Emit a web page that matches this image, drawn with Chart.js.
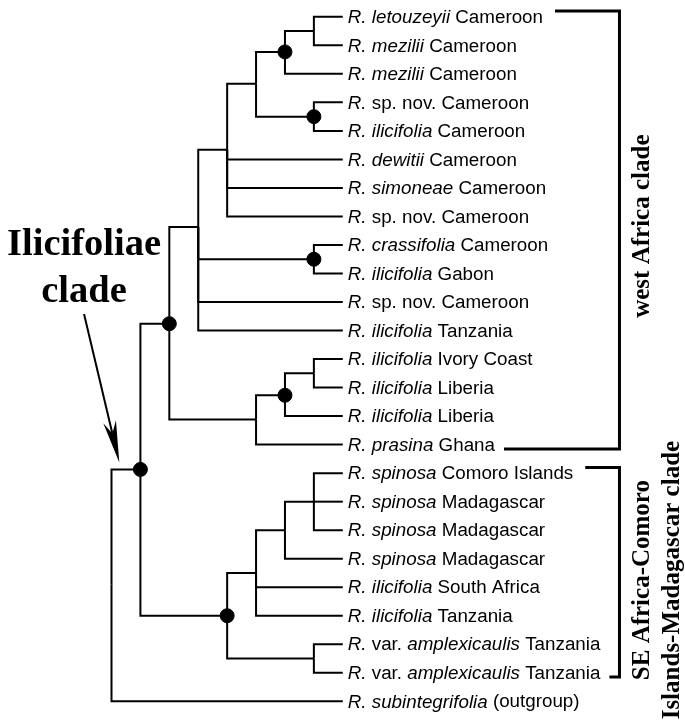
<!DOCTYPE html>
<html>
<head>
<meta charset="utf-8">
<script src="https://cdn.jsdelivr.net/npm/chart.js@4.4.1/dist/chart.umd.min.js"></script>
<style>
  html, body { margin: 0; padding: 0; background: #fff; }
</style>
</head>
<body>
<canvas id="arbol" width="685" height="721"></canvas>
<script>
// tips, top to bottom (_..._ = italic)
const leafLabels = [
  "_R. letouzeyii_ Cameroon",
  "_R. mezilii_ Cameroon",
  "_R. mezilii_ Cameroon",
  "_R._ sp. nov. Cameroon",
  "_R. ilicifolia_ Cameroon",
  "_R. dewitii_ Cameroon",
  "_R. simoneae_ Cameroon",
  "_R._ sp. nov. Cameroon",
  "_R. crassifolia_ Cameroon",
  "_R. ilicifolia_ Gabon",
  "_R._ sp. nov. Cameroon",
  "_R. ilicifolia_ Tanzania",
  "_R. ilicifolia_ Ivory Coast",
  "_R. ilicifolia_ Liberia",
  "_R. ilicifolia_ Liberia",
  "_R. prasina_ Ghana",
  "_R. spinosa_ Comoro Islands",
  "_R. spinosa_ Madagascar",
  "_R. spinosa_ Madagascar",
  "_R. spinosa_ Madagascar",
  "_R. ilicifolia_ South Africa",
  "_R. ilicifolia_ Tanzania",
  "_R._ var. _amplexicaulis_ Tanzania",
  "_R._ var. _amplexicaulis_ Tanzania",
  "_R. subintegrifolia_ (outgroup)"
];
const leafParents = ['a1', 'a1', 'a2', 'b1', 'b1', 'b', 'b', 'b', 'c1', 'c1', 'c', 'c',
  'd1', 'd1', 'd2', 'd3', 's1', 's1', 's1', 's2', 's3', 's3', 's5', 's5', 'root'];
const leafCol = 8;

// internal nodes
const nodeIds     = ['root', 'ili', 'wa', 'c', 'b', 'a', 'a2', 'a1', 'b1', 'c1', 'd3', 'd2', 'd1', 'se', 's3', 's2', 's1', 's5'];
const nodeParents = [null, 'root', 'ili', 'wa', 'c', 'b', 'a', 'a2', 'a', 'c', 'wa', 'd3', 'd2', 'ili', 'se', 's3', 's2', 'se'];
const nodeCols    = [0, 1, 2, 3, 4, 5, 6, 7, 7, 7, 5, 6, 7, 4, 5, 6, 7, 7];
const nodeRows    = [19.9, 15.87, 10.76, 7.37, 4.66, 2.35, 1.23, 0.5, 3.5, 8.5, 14.12, 13.27, 12.5, 21.0, 19.5, 18.0, 17.0, 22.5];
const supported   = ['ili', 'wa', 'a2', 'b1', 'c1', 'd2', 'se'];

// clades marked with brackets
const cladeNames = [["west Africa clade"], ["SE Africa-Comoro", "Islands-Madagascar clade"]];
const cladeFirst = [0, 16];
const cladeLast  = [15, 23];
const cladeMid   = [7.34, 19.75];
const bracketCol = 17.57;

// arrow annotation
const mainLabel = ["Ilicifoliae", "clade"];
const arrowFrom = { x: -0.95, y: 10.42 };
const arrowTo   = { x: 0.27, y: 15.63 };

const pos = {};
nodeIds.forEach((id, i) => { pos[id] = { x: nodeCols[i], y: nodeRows[i] }; });

const ramas = [];
function rama(padre, x, y) {
  const p = pos[padre];
  ramas.push({
    data: [{ x: p.x, y: p.y }, { x: p.x, y: y }, { x: x, y: y }],
    showLine: true,
    borderColor: '#000',
    borderWidth: 2,
    pointRadius: 0,
    borderJoinStyle: 'miter'
  });
}
leafParents.forEach((p, i) => rama(p, leafCol, i));
nodeIds.forEach((id, i) => { if (nodeParents[i]) rama(nodeParents[i], nodeCols[i], nodeRows[i]); });

const nodos = {
  data: supported.map(id => ({ x: pos[id].x, y: pos[id].y })),
  backgroundColor: '#000',
  borderColor: '#000',
  pointRadius: 7,
  pointHoverRadius: 7
};

function textoMixto(ctx, str, x, y) {
  str.split('_').forEach((part, i) => {
    ctx.font = (i % 2 ? 'italic ' : '') + '18.8px "Liberation Sans", Arial, sans-serif';
    ctx.fillText(part, x, y);
    x += ctx.measureText(part).width;
  });
  return x;
}

const anotaciones = {
  id: 'anotaciones',
  afterDatasetsDraw(chart) {
    const ctx = chart.ctx;
    const sx = chart.scales.x, sy = chart.scales.y;
    const tipX = sx.getPixelForValue(leafCol);
    const finTexto = [];
    ctx.save();
    ctx.fillStyle = '#000';
    ctx.textBaseline = 'middle';
    leafLabels.forEach((lab, i) => {
      finTexto.push(textoMixto(ctx, lab, tipX + 5, sy.getPixelForValue(i) + 1));
    });

    // brackets
    const bx = sx.getPixelForValue(bracketCol);
    ctx.strokeStyle = '#000';
    ctx.lineWidth = 3;
    ctx.lineJoin = 'miter';
    cladeNames.forEach((nombre, k) => {
      const y0 = sy.getPixelForValue(cladeFirst[k] - 0.2);
      const y1 = sy.getPixelForValue(cladeLast[k] + 0.15);
      ctx.beginPath();
      ctx.moveTo(finTexto[cladeFirst[k]] + 12, y0);
      ctx.lineTo(bx, y0);
      ctx.lineTo(bx, y1);
      ctx.lineTo(finTexto[cladeLast[k]] + 9, y1);
      ctx.stroke();

      ctx.save();
      ctx.translate(bx, sy.getPixelForValue(cladeMid[k]));
      ctx.rotate(-Math.PI / 2);
      ctx.font = 'bold 25px "Liberation Serif", "Times New Roman", serif';
      ctx.textAlign = 'center';
      ctx.textBaseline = 'alphabetic';
      nombre.forEach((linea, j) => ctx.fillText(linea, 0, 30 + j * 30));
      ctx.restore();
    });

    // Ilicifoliae clade + arrow
    const ax0 = sx.getPixelForValue(arrowFrom.x), ay0 = sy.getPixelForValue(arrowFrom.y);
    const ax1 = sx.getPixelForValue(arrowTo.x), ay1 = sy.getPixelForValue(arrowTo.y);
    ctx.font = 'bold 38.5px "Liberation Serif", "Times New Roman", serif';
    ctx.textAlign = 'center';
    ctx.textBaseline = 'alphabetic';
    ctx.fillText(mainLabel[0], ax0, ay0 - 59);
    ctx.fillText(mainLabel[1], ax0, ay0 - 12);

    const ang = Math.atan2(ay1 - ay0, ax1 - ax0);
    ctx.lineWidth = 2;
    ctx.beginPath();
    ctx.moveTo(ax0, ay0);
    ctx.lineTo(ax1 - 30 * Math.cos(ang), ay1 - 30 * Math.sin(ang));
    ctx.stroke();
    ctx.translate(ax1, ay1);
    ctx.rotate(ang);
    ctx.beginPath();
    ctx.moveTo(0, 0);
    ctx.lineTo(-42, -6.5);
    ctx.lineTo(-30, 0);
    ctx.lineTo(-42, 6.5);
    ctx.closePath();
    ctx.fill();
    ctx.restore();
  }
};

new Chart(document.getElementById('arbol'), {
  type: 'scatter',
  data: { datasets: [...ramas, nodos] },
  options: {
    responsive: false,
    animation: false,
    events: [],
    layout: { padding: 0 },
    plugins: { legend: { display: false }, tooltip: { enabled: false } },
    scales: {
      x: { type: 'linear', display: false, min: -3.58, max: 19.56 },
      y: { type: 'linear', display: false, reverse: true, min: -0.309, max: 24.41 }
    }
  },
  plugins: [anotaciones]
});
</script>
</body>
</html>
